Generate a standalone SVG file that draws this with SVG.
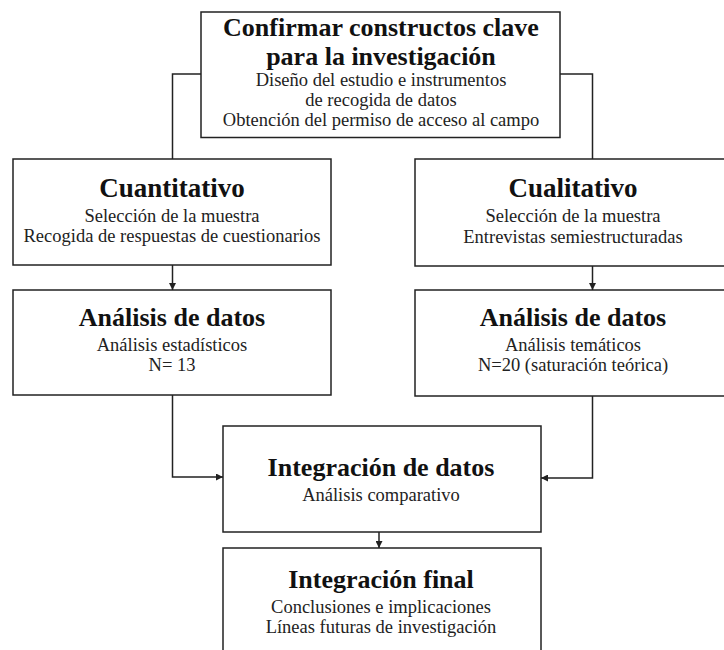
<svg xmlns="http://www.w3.org/2000/svg" width="724" height="650" viewBox="0 0 724 650">
  <style>
    .box { fill: #ffffff; stroke: #222222; stroke-width: 1.5; }
    .conn { fill: none; stroke: #222222; stroke-width: 1.5; }
    .title { font-family: "Liberation Serif", "Times New Roman", serif; font-weight: bold; font-size: 26px; fill: #111111; text-anchor: middle; }
    .sub { font-family: "Liberation Serif", "Times New Roman", serif; font-size: 18.5px; fill: #222222; text-anchor: middle; }
  </style>
  <defs>
    <marker id="arrow" viewBox="0 0 10 10" refX="10" refY="5" markerWidth="7" markerHeight="7" orient="auto" markerUnits="userSpaceOnUse">
      <path d="M0,0 L10,5 L0,10 z" fill="#222222"/>
    </marker>
  </defs>
  <rect width="724" height="650" fill="#ffffff"/>

  <g id="connectors">
    <polyline class="conn" points="201,74 172.5,74 172.5,159"/>
    <polyline class="conn" points="560,74 592.5,74 592.5,159"/>
    <line class="conn" x1="172.5" y1="265" x2="172.5" y2="290" marker-end="url(#arrow)"/>
    <line class="conn" x1="592.5" y1="266" x2="592.5" y2="290" marker-end="url(#arrow)"/>
    <polyline class="conn" points="172.5,395 172.5,477 223,477" marker-end="url(#arrow)"/>
    <polyline class="conn" points="592.5,396 592.5,478 541,478" marker-end="url(#arrow)"/>
    <line class="conn" x1="379" y1="532" x2="379" y2="548" marker-end="url(#arrow)"/>
  </g>

  <g id="confirmar">
    <rect class="box" x="201" y="12" width="359" height="125.5"/>
    <text class="title" x="381" y="36">Confirmar constructos clave</text>
    <text class="title" x="381" y="65">para la investigación</text>
    <text class="sub" x="381" y="86">Diseño del estudio e instrumentos</text>
    <text class="sub" x="381" y="106">de recogida de datos</text>
    <text class="sub" x="381" y="126">Obtención del permiso de acceso al campo</text>
  </g>

  <g id="cuantitativo">
    <rect class="box" x="13" y="159" width="318" height="106"/>
    <text class="title" x="172" y="197" style="font-size:27px">Cuantitativo</text>
    <text class="sub" x="172" y="222">Selección de la muestra</text>
    <text class="sub" x="172" y="242">Recogida de respuestas de cuestionarios</text>
  </g>

  <g id="cualitativo">
    <rect class="box" x="415" y="159" width="318" height="107"/>
    <text class="title" x="573" y="197" style="font-size:27px">Cualitativo</text>
    <text class="sub" x="573" y="222">Selección de la muestra</text>
    <text class="sub" x="573" y="243">Entrevistas semiestructuradas</text>
  </g>

  <g id="analisis-cuanti">
    <rect class="box" x="13" y="290" width="318" height="105"/>
    <text class="title" x="172" y="326">Análisis de datos</text>
    <text class="sub" x="172" y="351">Análisis estadísticos</text>
    <text class="sub" x="172" y="371">N= 13</text>
  </g>

  <g id="analisis-cuali">
    <rect class="box" x="415" y="290" width="318" height="106"/>
    <text class="title" x="573" y="326">Análisis de datos</text>
    <text class="sub" x="573" y="351">Análisis temáticos</text>
    <text class="sub" x="573" y="371">N=20 (saturación teórica)</text>
  </g>

  <g id="integracion-datos">
    <rect class="box" x="223" y="426" width="318" height="106"/>
    <text class="title" x="381" y="476">Integración de datos</text>
    <text class="sub" x="381" y="501">Análisis comparativo</text>
  </g>

  <g id="integracion-final">
    <rect class="box" x="223" y="548" width="318" height="120"/>
    <text class="title" x="381" y="588">Integración final</text>
    <text class="sub" x="381" y="613">Conclusiones e implicaciones</text>
    <text class="sub" x="381" y="633">Líneas futuras de investigación</text>
  </g>
</svg>
